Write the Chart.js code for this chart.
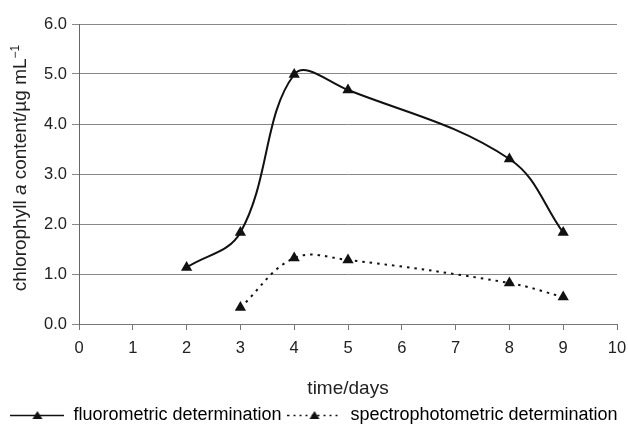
<!DOCTYPE html>
<html>
<head>
<meta charset="utf-8">
<script src="https://cdn.jsdelivr.net/npm/chart.js@4.4.0/dist/chart.umd.min.js"></script>
<style>
  html, body { margin: 0; padding: 0; background: #fff; }
  #wrap { width: 628px; height: 436px; }
</style>
</head>
<body>
<div id="wrap"><canvas id="grafico"></canvas></div>
<script>
// valores
const fluoroDays = [2, 3, 4, 5, 8, 9];
const fluoroValues = [1.13, 1.83, 4.99, 4.68, 3.3, 1.83];
const spectroDays = [3, 4, 5, 8, 9];
const spectroValues = [0.33, 1.32, 1.28, 0.82, 0.54];
const seriesNames = ['fluorometric determination', 'spectrophotometric determination'];
const xTitle = 'time/days';

const FONT = '"Liberation Sans", Arial, sans-serif';
const TEXT = '#222';

// icone da legenda: linha + triangulo
function legendIcon(dashed) {
  const c = document.createElement('canvas');
  c.width = 54; c.height = 14;
  const g = c.getContext('2d');
  g.strokeStyle = '#111';
  g.lineWidth = dashed ? 1.6 : 1.4;
  if (dashed) g.setLineDash([2, 4]);
  g.beginPath(); g.moveTo(0, 7.5); g.lineTo(54, 7.5); g.stroke();
  g.setLineDash([]);
  g.fillStyle = '#111';
  g.beginPath(); g.moveTo(27, 3); g.lineTo(32, 11); g.lineTo(22, 11); g.closePath(); g.fill();
  return c;
}

// titulo do eixo Y com o "a" em italico
const yTitlePlugin = {
  id: 'yTitle',
  afterDraw(chart) {
    const { ctx, chartArea } = chart;
    const parts = [
      ['chlorophyll ', 'normal'],
      ['a', 'italic'],
      [' content/\u00b5g mL', 'normal'],
      ['\u22121', 'sup']
    ];
    ctx.save();
    ctx.fillStyle = TEXT;
    ctx.textBaseline = 'alphabetic';
    const fontOf = (s) => s === 'italic' ? 'italic 19px ' + FONT : (s === 'sup' ? '12px ' + FONT : '19px ' + FONT);
    let total = 0;
    parts.forEach(p => { ctx.font = fontOf(p[1]); total += ctx.measureText(p[0]).width; });
    const cy = (chartArea.top + chartArea.bottom) / 2 - 6;
    ctx.translate(26, cy);
    ctx.rotate(-Math.PI / 2);
    let x = -total / 2;
    parts.forEach(p => {
      ctx.font = fontOf(p[1]);
      ctx.fillText(p[0], x, p[1] === 'sup' ? -7 : 0);
      x += ctx.measureText(p[0]).width;
    });
    ctx.restore();
  }
};

const ctx = document.getElementById('grafico').getContext('2d');
new Chart(ctx, {
  type: 'line',
  data: {
    datasets: [
      {
        label: seriesNames[0],
        data: fluoroDays.map((d, i) => ({ x: d, y: fluoroValues[i] })),
        borderColor: '#111',
        backgroundColor: '#111',
        borderWidth: 2,
        tension: 0.38,
        pointStyle: 'triangle',
        pointRadius: 6.5,
        pointBorderWidth: 0
      },
      {
        label: seriesNames[1],
        data: spectroDays.map((d, i) => ({ x: d, y: spectroValues[i] })),
        borderColor: '#111',
        backgroundColor: '#111',
        borderWidth: 2,
        borderDash: [2.5, 5],
        tension: 0.38,
        pointStyle: 'triangle',
        pointRadius: 6.5,
        pointBorderWidth: 0
      }
    ]
  },
  options: {
    responsive: true,
    maintainAspectRatio: false,
    animation: false,
    layout: { padding: { top: 24, right: 0, left: 0, bottom: 2 } },
    scales: {
      x: {
        type: 'linear',
        min: 0,
        max: 10,
        afterFit(scale) { scale.paddingRight = 11; scale.height = 76; },
        ticks: { stepSize: 1, color: TEXT, font: { family: FONT, size: 16.5 }, padding: 9 },
        grid: { drawOnChartArea: false, drawTicks: true, tickLength: 6, color: '#777' },
        border: { color: '#777' },
        title: { display: true, text: xTitle, color: TEXT, font: { family: FONT, size: 19 }, padding: { top: 16, bottom: 0 } }
      },
      y: {
        min: 0,
        max: 6,
        afterFit(scale) { scale.width = 79; },
        ticks: {
          stepSize: 1,
          color: TEXT,
          font: { family: FONT, size: 16.5 },
          padding: 5,
          callback: v => v.toFixed(1)
        },
        grid: { color: '#888', tickLength: 7 },
        border: { color: '#666' }
      }
    },
    plugins: {
      legend: {
        position: 'bottom',
        labels: {
          usePointStyle: true,
          pointStyleWidth: 54,
          color: TEXT,
          font: { family: FONT, size: 18 },
          padding: 6,
          generateLabels: (chart) => chart.data.datasets.map((ds, i) => ({
            text: ds.label,
            pointStyle: legendIcon(i === 1),
            fillStyle: '#111',
            strokeStyle: '#111',
            lineWidth: 0,
            datasetIndex: i
          }))
        }
      },
      tooltip: { enabled: false }
    }
  },
  plugins: [yTitlePlugin]
});
</script>
</body>
</html>
